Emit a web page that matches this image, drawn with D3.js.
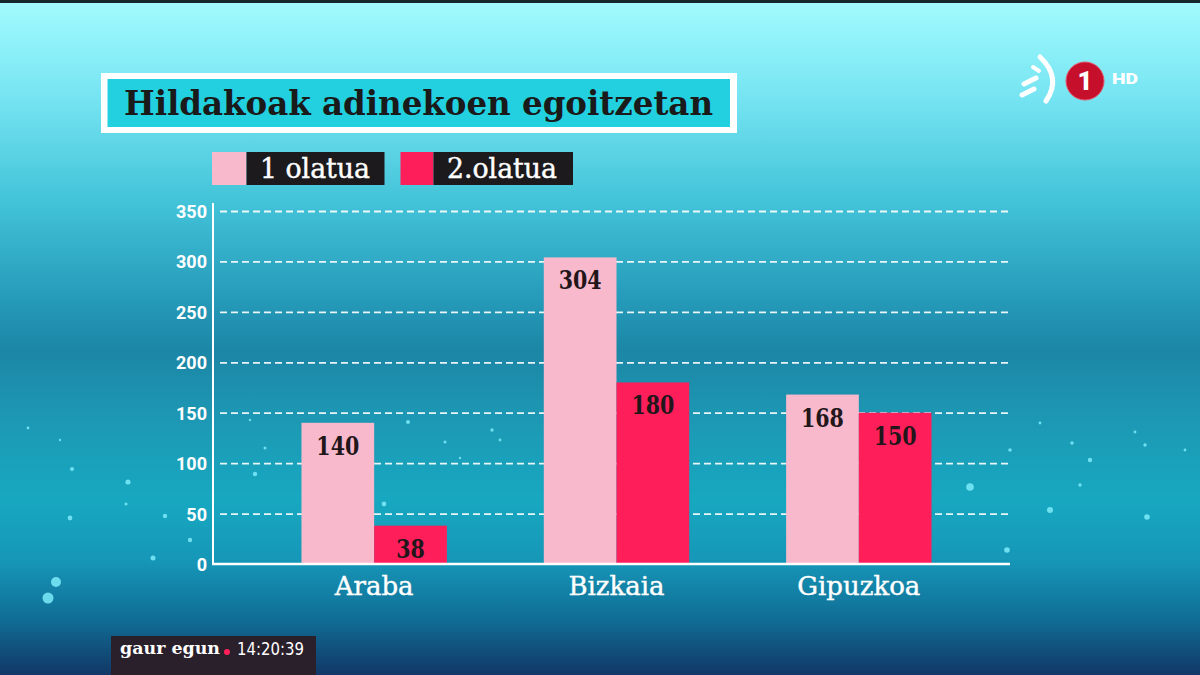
<!DOCTYPE html>
<html>
<head>
<meta charset="utf-8">
<script src="https://cdn.jsdelivr.net/npm/d3@7"></script>
<style>
html,body{margin:0;padding:0;background:#1d8fb0;}
svg{display:block;}
</style>
</head>
<body>
<svg id="chart" width="1200" height="675"></svg>
<script>
// ---- data ----
const title = "Hildakoak adinekoen egoitzetan";
const categories = ["Araba", "Bizkaia", "Gipuzkoa"];
const seriesNames = ["1 olatua", "2.olatua"];
const wave1 = [140, 304, 168];
const wave2 = [38, 180, 150];
const yTicks = [0, 50, 100, 150, 200, 250, 300, 350];
const clockText = "14:20:39";
const programText = "gaur egun";

const W = 1200, H = 675;
const svg = d3.select("#chart");
const defs = svg.append("defs");

// background gradient
const bg = defs.append("linearGradient").attr("id", "bg").attr("x1", 0).attr("y1", 0).attr("x2", 0).attr("y2", 1);
[[0, "#a3fcff"], [0.15, "#74e3f1"], [0.3, "#42c3d8"], [0.44, "#269bba"], [0.52, "#1c86a6"],
 [0.62, "#1d98b4"], [0.74, "#17a8c0"], [0.83, "#1697b8"], [0.92, "#106c94"], [1, "#123766"]]
  .forEach(([o, c]) => bg.append("stop").attr("offset", o).attr("stop-color", c));
svg.append("rect").attr("width", W).attr("height", H).attr("fill", "url(#bg)");
svg.append("rect").attr("width", W).attr("height", 3).attr("fill", "#16282b");

// decorative sparkles
const sparkles = [[28,428,1.4],[60,440,1.2],[72,469,2],[128,482,2.6],[126,504,1.5],[70,518,2.4],[165,516,2.2],[190,540,2.2],[153,558,2.5],[56,582,5],[48,598,5.5],
  [250,420,1.2],[265,448,1.5],[255,474,2.2],[384,504,2.4],[408,422,2],[445,442,1.5],[460,458,1.2],[492,430,1.7],[500,440,1.4],
  [1040,423,1.4],[1072,443,1.8],[1010,450,1.8],[1090,460,2.2],[1080,485,1.7],[970,487,3.8],[1050,510,3],[1147,517,2.8],[1007,550,2.8],[1145,445,1.7],[1135,432,1.4],[1185,450,1.4]];
svg.append("g").selectAll("circle").data(sparkles).join("circle")
  .attr("cx", d => d[0]).attr("cy", d => d[1]).attr("r", d => d[2])
  .attr("fill", "#7cebfa").attr("opacity", 0.85);

// scales
const margin = {left: 213, right: 1010, top: 211, bottom: 564};
const y = d3.scaleLinear().domain([0, 350]).range([margin.bottom, margin.top]);
const x0 = d3.scaleBand().domain(categories).range([253, 980]).paddingInner(0.4).paddingOuter(0.2);
const x1 = d3.scaleBand().domain(seriesNames).range([0, x0.bandwidth()]);
const colors = d3.scaleOrdinal().domain(seriesNames).range(["#f7b9cb", "#fe1f5a"]);

// gridlines
svg.append("g").attr("transform", `translate(1008,0)`)
  .call(d3.axisLeft(y).tickValues(yTicks.filter(t => t > 0)).tickSize(1008 - 218).tickFormat(""))
  .call(g => g.select(".domain").remove())
  .call(g => g.selectAll(".tick line").attr("stroke", "#ffffff").attr("stroke-width", 1.8)
    .attr("stroke-dasharray", "7,4").attr("opacity", 0.9));

// bars
const rows = categories.map((c, i) => ({cat: c, vals: [{s: seriesNames[0], v: wave1[i]}, {s: seriesNames[1], v: wave2[i]}]}));
const groups = svg.append("g").selectAll("g").data(rows).join("g")
  .attr("transform", d => `translate(${x0(d.cat)},0)`);
groups.selectAll("rect").data(d => d.vals).join("rect")
  .attr("x", d => x1(d.s)).attr("width", x1.bandwidth())
  .attr("y", d => y(d.v)).attr("height", d => y(0) - y(d.v))
  .attr("fill", d => colors(d.s));
groups.selectAll("text").data(d => d.vals).join("text")
  .attr("x", d => x1(d.s) + x1.bandwidth() / 2)
  .attr("y", d => y(d.v) + 32)
  .attr("text-anchor", "middle")
  .attr("font-family", "'DejaVu Serif Condensed','DejaVu Serif',serif")
  .attr("font-size", 26).attr("font-weight", 700).attr("fill", "#22161a")
  .attr("textLength", d => String(d.v).length * 14.3).attr("lengthAdjust", "spacingAndGlyphs")
  .text(d => d.v);

// y axis
const yAxis = svg.append("g").attr("transform", `translate(${margin.left},0)`)
  .call(d3.axisLeft(y).tickValues(yTicks).tickSize(0).tickPadding(6));
yAxis.select(".domain").remove();
yAxis.selectAll("text").attr("fill", "#ffffff").attr("font-family", "Roboto, sans-serif")
  .attr("font-weight", 700).attr("font-size", 18).attr("dy", "0.36em");
svg.append("line").attr("x1", margin.left).attr("x2", margin.left).attr("y1", 203).attr("y2", margin.bottom + 1)
  .attr("stroke", "#ffffff").attr("stroke-width", 2);

// x axis
const xAxis = svg.append("g").attr("transform", `translate(0,${margin.bottom})`)
  .call(d3.axisBottom(x0).tickSize(0).tickPadding(0));
xAxis.select(".domain").remove();
xAxis.selectAll("text").attr("fill", "#ffffff").attr("font-family", "'DejaVu Serif',serif")
  .attr("font-size", 26).attr("dy", 0).attr("y", 31)
  .attr("stroke", "#ffffff").attr("stroke-width", 0.4);
svg.append("line").attr("x1", margin.left - 1).attr("x2", margin.right).attr("y1", margin.bottom).attr("y2", margin.bottom)
  .attr("stroke", "#ffffff").attr("stroke-width", 2.5);

// title box
svg.append("rect").attr("x", 101).attr("y", 73).attr("width", 636).attr("height", 60).attr("fill", "#ffffff");
svg.append("rect").attr("x", 107.5).attr("y", 79).attr("width", 622.5).attr("height", 48).attr("fill", "#22d0df");
svg.append("text").attr("x", 124).attr("y", 115)
  .attr("font-family", "'DejaVu Serif',serif").attr("font-weight", 700).attr("font-size", 34)
  .attr("fill", "#1a1a1a").attr("textLength", 589).attr("lengthAdjust", "spacingAndGlyphs")
  .text(title);

// legend
const legendPos = [{sx: 212, bx: 246.5, bw: 138, tx: 260}, {sx: 400.5, bx: 433.5, bw: 139.5, tx: 447}];
const lg = svg.append("g").selectAll("g").data(seriesNames).join("g");
lg.append("rect").attr("x", (d, i) => legendPos[i].sx).attr("y", 152).attr("width", (d, i) => legendPos[i].bx - legendPos[i].sx)
  .attr("height", 33).attr("fill", d => colors(d));
lg.append("rect").attr("x", (d, i) => legendPos[i].bx).attr("y", 152).attr("width", (d, i) => legendPos[i].bw)
  .attr("height", 33).attr("fill", "#1c1a1c");
lg.append("text").attr("x", (d, i) => legendPos[i].tx).attr("y", 178)
  .attr("font-family", "'DejaVu Serif Condensed','DejaVu Serif',serif").attr("font-size", 27)
  .attr("fill", "#ffffff").attr("stroke", "#ffffff").attr("stroke-width", 0.4)
  .attr("textLength", 110).attr("lengthAdjust", "spacingAndGlyphs")
  .text(d => d);

// channel logo
const logo = svg.append("g");
logo.append("path").attr("d", "M1040,57 Q1062,78 1046,101").attr("fill", "none")
  .attr("stroke", "#ffffff").attr("stroke-width", 5).attr("stroke-linecap", "round");
logo.append("line").attr("x1", 1024).attr("y1", 84).attr("x2", 1036).attr("y2", 78)
  .attr("stroke", "#ffffff").attr("stroke-width", 5).attr("stroke-linecap", "round");
logo.append("line").attr("x1", 1022).attr("y1", 95).attr("x2", 1034).attr("y2", 89)
  .attr("stroke", "#ffffff").attr("stroke-width", 5).attr("stroke-linecap", "round");
logo.append("line").attr("x1", 1033).attr("y1", 67).attr("x2", 1039).attr("y2", 71)
  .attr("stroke", "#ffffff").attr("stroke-width", 4).attr("stroke-linecap", "round");
logo.append("circle").attr("cx", 1085).attr("cy", 81).attr("r", 19).attr("fill", "#c50f2b")
  .attr("stroke", "#e8556a").attr("stroke-width", 1);
logo.append("text").attr("x", 1085).attr("y", 90).attr("text-anchor", "middle")
  .attr("font-family", "Roboto, sans-serif").attr("font-weight", 900).attr("font-size", 26)
  .attr("fill", "#ffffff").text("1");
logo.append("text").attr("x", 1112).attr("y", 83.5)
  .attr("font-family", "Roboto, sans-serif").attr("font-weight", 900).attr("font-size", 15)
  .attr("fill", "#ffffff").attr("textLength", 26).attr("lengthAdjust", "spacingAndGlyphs").text("HD");

// bottom program bug
svg.append("rect").attr("x", 111).attr("y", 636).attr("width", 205).attr("height", 39).attr("fill", "#2a202c");
svg.append("text").attr("x", 120).attr("y", 654)
  .attr("font-family", "'DejaVu Serif',serif").attr("font-weight", 700).attr("font-size", 17)
  .attr("fill", "#ffffff").attr("textLength", 100).attr("lengthAdjust", "spacingAndGlyphs").text(programText);
svg.append("circle").attr("cx", 227).attr("cy", 652).attr("r", 3).attr("fill", "#fe1f5a");
svg.append("text").attr("x", 237).attr("y", 655)
  .attr("font-family", "'DejaVu Sans Condensed','DejaVu Sans',sans-serif").attr("font-size", 17)
  .attr("fill", "#ffffff").attr("textLength", 67).attr("lengthAdjust", "spacingAndGlyphs").text(clockText);
</script>
</body>
</html>
